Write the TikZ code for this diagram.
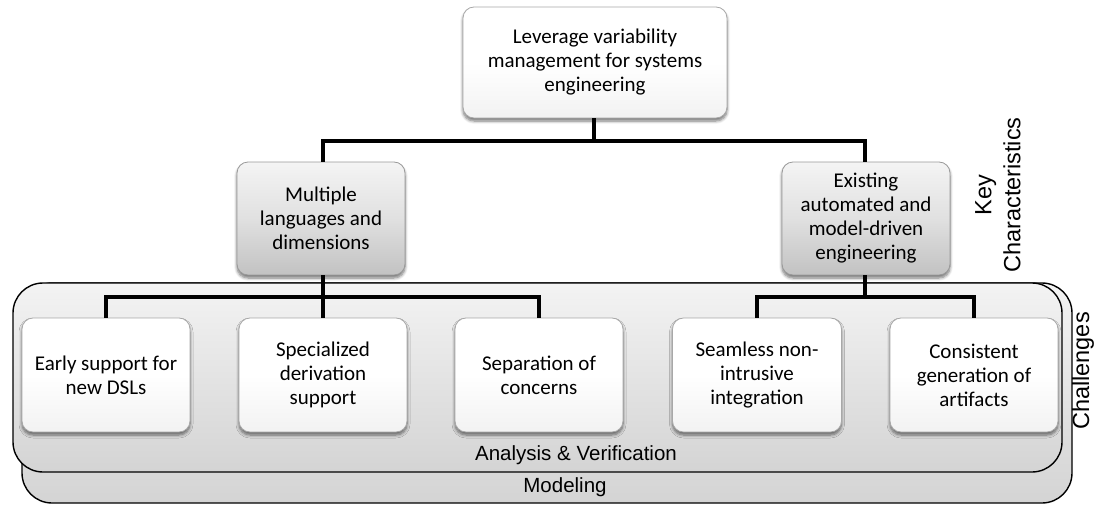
\documentclass[tikz,border=0pt]{standalone}
\usepackage{fontspec}
\setmainfont{Carlito}
\newfontfamily\labelfont{Liberation Sans}
\usetikzlibrary{shadows.blur}

\definecolor{boxline}{HTML}{A8A8A8}
\definecolor{midtop}{HTML}{F4F4F4}
\definecolor{midbot}{HTML}{C2C2C2}
\definecolor{laytop}{HTML}{F3F3F3}
\definecolor{laybot}{HTML}{D4D4D4}

\tikzset{
  whitebox/.style={draw=boxline, line width=0.8pt, rounded corners=11pt,
    top color=white, bottom color=white!95!black, middle color=white,
    align=center, inner sep=4pt,
    font=\fontsize{21}{24}\selectfont,
    blur shadow={shadow xshift=0pt, shadow yshift=-3pt, shadow blur steps=6,
      shadow opacity=55, shadow blur radius=3pt}},
  greybox/.style={whitebox, top color=midtop, bottom color=midbot, middle color=white!88!black,
    draw=gray!80},
  layer/.style={draw=black, line width=1.4pt, rounded corners=30pt,
    top color=laytop, bottom color=laybot},
  link/.style={draw=black, line width=3.2pt},
  tag/.style={font=\labelfont\fontsize{20.5}{24}\selectfont, inner sep=0pt},
  sidetag/.style={font=\labelfont\fontsize{23.5}{29}\selectfont, rotate=90,
    align=center, inner sep=0pt},
}

\begin{document}
\begin{tikzpicture}[x=1pt, y=-1pt]
  \useasboundingbox (0,0) rectangle (1101,506);

  % layered backgrounds
  \path[layer] (22,283) rectangle (1072,503);
  \path[layer] (13,283) rectangle (1062,472);
  \node[tag] (modeling) at (565,487) {Modeling};
  \node[tag] (analysis) at (576,455) {Analysis \& Verification};

  % goal
  \node[whitebox, minimum width=264pt, minimum height=111pt] (goal) at (595,62.5)
    {Leverage variability\\management for systems\\engineering};

  % key characteristics
  \node[greybox, minimum width=168pt, minimum height=113pt] (langs) at (321,218.5)
    {Multiple\\languages and\\dimensions};
  \node[greybox, minimum width=168pt, minimum height=113pt] (mde) at (866,218.5)
    {Existing\\automated and\\model-driven\\engineering};

  % challenges
  \node[whitebox, minimum width=168pt, minimum height=114pt] (dsl) at (106,375)
    {Early support for\\new DSLs};
  \node[whitebox, minimum width=168pt, minimum height=114pt] (deriv) at (323,375)
    {Specialized\\derivation\\support};
  \node[whitebox, minimum width=168pt, minimum height=114pt] (sep) at (539,375)
    {Separation of\\concerns};
  \node[whitebox, minimum width=169pt, minimum height=114pt] (seam) at (757,375)
    {Seamless non-\\intrusive\\integration};
  \node[whitebox, minimum width=168pt, minimum height=114pt] (cons) at (974,375)
    {Consistent\\generation of\\artifacts};

  % side labels
  \node[sidetag] (keych) at (998,195) {Key\\Characteristics};
  \node[sidetag] (chall) at (1083,371) {Challenges};

  % junction points
  \coordinate (j0) at (594,141);
  \coordinate (j1) at (323,297);
  \coordinate (j2) at (865,297);

  % connectors
  \draw[link] (goal.south -| j0) -- (j0);
  \draw[link] (langs.north -| j1) |- (j0) -| (mde.north -| j2);
  \draw[link] (langs.south -| j1) -- (j1);
  \draw[link] (dsl.north) |- (j1) -| (sep.north);
  \draw[link] (j1) -- (deriv.north);
  \draw[link] (mde.south -| j2) -- (j2);
  \draw[link] (seam.north) |- (j2) -| (cons.north);
\end{tikzpicture}
\end{document}
